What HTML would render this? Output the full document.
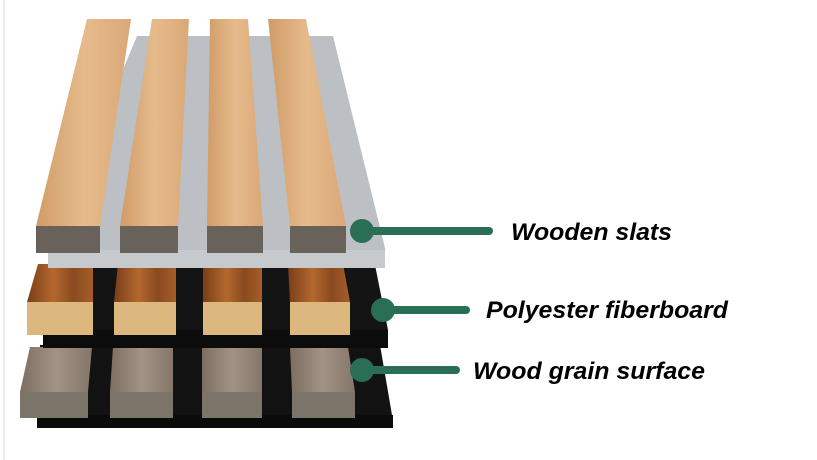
<!DOCTYPE html>
<html><head><meta charset="utf-8"><style>
html,body{margin:0;padding:0;background:#fff;}
svg{display:block}
</style></head><body>
<svg width="817" height="460" viewBox="0 0 817 460" xmlns="http://www.w3.org/2000/svg">
<defs>
<linearGradient id="oak" x1="0" y1="0" x2="1" y2="0">
<stop offset="0" stop-color="#d09c68"/><stop offset="0.5" stop-color="#e6bb8c"/><stop offset="1" stop-color="#dba877"/>
</linearGradient>
<linearGradient id="walnut" x1="0" y1="0" x2="1" y2="0">
<stop offset="0" stop-color="#7a3e18"/><stop offset="0.4" stop-color="#b4682e"/><stop offset="0.7" stop-color="#8a4a20"/><stop offset="1" stop-color="#a65d29"/>
</linearGradient>
<linearGradient id="grey" x1="0" y1="0" x2="1" y2="0">
<stop offset="0" stop-color="#7d6e62"/><stop offset="0.5" stop-color="#a39386"/><stop offset="1" stop-color="#85766a"/>
</linearGradient>
</defs>
<rect x="0" y="0" width="817" height="460" fill="#fff"/>
<rect x="3" y="0" width="2" height="460" fill="#ececec"/>

<!-- bottom layer -->
<polygon points="40,345 380,345 392,415 393,428 37,428 37,415" fill="#121212"/>
<rect x="37" y="415" width="356" height="13" fill="#0b0b0b"/>
<g fill="url(#grey)">
<polygon points="30,347 92,347 88,392 20,392"/>
<polygon points="113,347 173,347 173,392 110,392"/>
<polygon points="202,347 262,347 262,392 202,392"/>
<polygon points="290,347 348,347 355,392 292,392"/>
</g>
<g fill="#7b7468">
<rect x="20" y="392" width="68" height="26"/>
<rect x="110" y="392" width="63" height="26"/>
<rect x="202" y="392" width="60" height="26"/>
<rect x="292" y="392" width="63" height="26"/>
</g>

<!-- middle layer -->
<polygon points="45,265 375,265 388,330 388,348 43,348 43,330" fill="#141414"/>
<rect x="43" y="330" width="345" height="18" fill="#0c0c0c"/>
<g fill="url(#walnut)">
<polygon points="38,264 93,264 93,302 27,302"/>
<polygon points="118,264 176,264 176,302 114,302"/>
<polygon points="203,264 262,264 262,302 203,302"/>
<polygon points="288,264 343,264 350,302 290,302"/>
</g>
<g fill="#dcb87e">
<rect x="27" y="302" width="66" height="33"/>
<rect x="114" y="302" width="62" height="33"/>
<rect x="203" y="302" width="59" height="33"/>
<rect x="290" y="302" width="60" height="33"/>
</g>

<!-- top layer felt board -->
<polygon points="137,36 333,36 385,248 385,268 48,268 48,248" fill="#bcc0c4"/>
<rect x="48" y="250" width="337" height="18" fill="#c7cacc"/>
<!-- slats -->
<g fill="url(#oak)">
<polygon points="87,19 131,19 100,226 36,226"/>
<polygon points="152,19 189,19 178,226 120,226"/>
<polygon points="210,19 248,19 263,226 207,226"/>
<polygon points="268,19 306,19 346,226 290,226"/>
</g>
<g fill="#69625b">
<rect x="36" y="226" width="64" height="27"/>
<rect x="120" y="226" width="58" height="27"/>
<rect x="207" y="226" width="56" height="27"/>
<rect x="290" y="226" width="56" height="27"/>
</g>

<!-- callouts -->
<g fill="#2a6e55">
<circle cx="362" cy="231" r="12"/>
<rect x="362" y="227" width="131" height="8" rx="4"/>
<circle cx="383" cy="310" r="12"/>
<rect x="383" y="306" width="87" height="8" rx="4"/>
<circle cx="362" cy="370" r="12"/>
<rect x="362" y="366" width="98" height="8" rx="4"/>
</g>
<g font-family="Liberation Sans, sans-serif" font-weight="bold" font-style="italic" font-size="24" fill="#000">
<text x="511" y="240" textLength="161" lengthAdjust="spacingAndGlyphs">Wooden slats</text>
<text x="486" y="318" textLength="242" lengthAdjust="spacingAndGlyphs">Polyester fiberboard</text>
<text x="473" y="379" textLength="232" lengthAdjust="spacingAndGlyphs">Wood grain surface</text>
</g>
</svg>
</body></html>
